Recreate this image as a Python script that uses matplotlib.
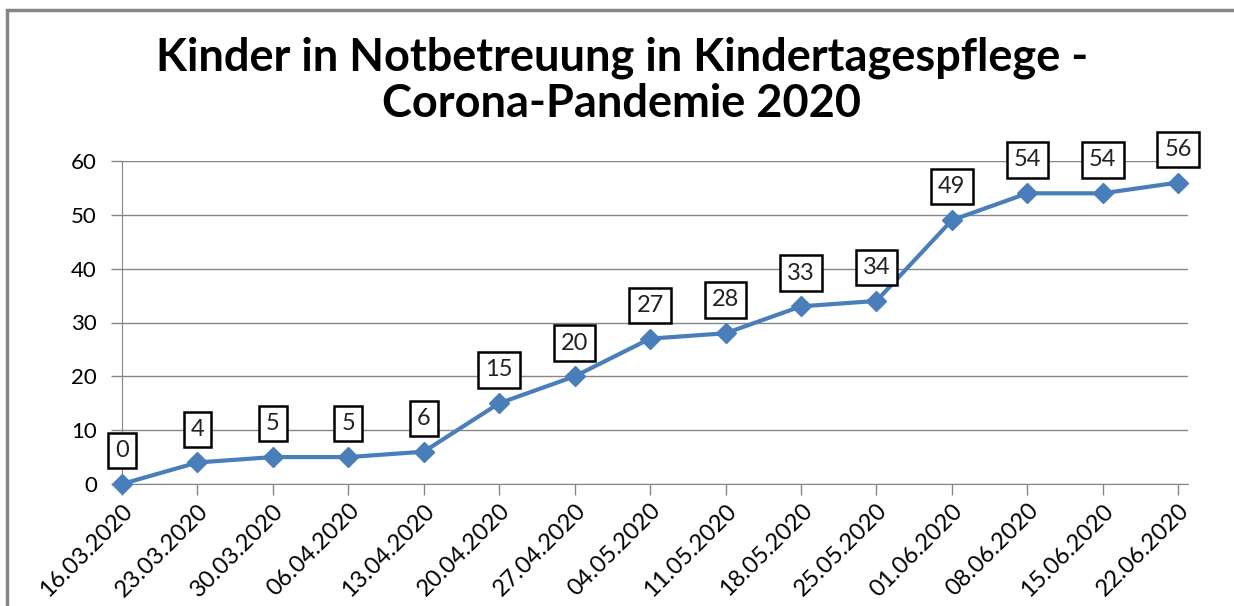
import matplotlib.pyplot as plt
from matplotlib.patches import Rectangle

# Daten
datum = ["16.03.2020", "23.03.2020", "30.03.2020", "06.04.2020", "13.04.2020",
         "20.04.2020", "27.04.2020", "04.05.2020", "11.05.2020", "18.05.2020",
         "25.05.2020", "01.06.2020", "08.06.2020", "15.06.2020", "22.06.2020"]
kinder = [0, 4, 5, 5, 6, 15, 20, 27, 28, 33, 34, 49, 54, 54, 56]
y_ticks = [0, 10, 20, 30, 40, 50, 60]

plt.rcParams['font.family'] = ['Lato', 'DejaVu Sans']

fig = plt.figure(figsize=(12.34, 6.06), dpi=100)
ax = fig.add_axes([122 / 1234, 1 - 484 / 606, (1188 - 122) / 1234, (484 - 161) / 606])

x = list(range(len(datum)))
ax.plot(x, kinder, color="#4a7ebb", lw=3, marker="D", ms=10, clip_on=False, zorder=3)

for xi, v in zip(x, kinder):
    ax.annotate(str(v), (xi, v), xytext=(0, 24), textcoords="offset points",
                ha="center", va="center", fontsize=17, color="#222222",
                bbox=dict(boxstyle="square,pad=0.3", fc="white", ec="black", lw=1.8),
                zorder=4)

ax.set_xlim(0, 14.13)
ax.set_ylim(0, 60)
ax.set_yticks(y_ticks)
ax.set_xticks(x)
ax.set_xticklabels(datum, rotation=45, ha="right", rotation_mode="anchor")
ax.tick_params(axis="both", labelsize=16, colors="#868686", labelcolor="black",
               length=8, width=1)
ax.tick_params(axis="x", labelsize=17)
ax.tick_params(axis="y", pad=10)
ax.grid(axis="y", color="#868686", lw=1)
ax.set_axisbelow(True)
for s in ["top", "right"]:
    ax.spines[s].set_visible(False)
for s in ["left", "bottom"]:
    ax.spines[s].set_color("#868686")

fig.text(622 / 1234, 1 - 81 / 606, "Kinder in Notbetreuung in Kindertagespflege -\nCorona-Pandemie 2020",
         ha="center", va="center", fontsize=32.5, fontweight="bold", linespacing=1.12)

# Rahmen
fig.patches.append(Rectangle((7 / 1234, -0.1), 1.2, 1.1 - 10 / 606, transform=fig.transFigure,
                             fill=False, ec="#868686", lw=2.5))

fig.savefig("out.png", dpi=100)
